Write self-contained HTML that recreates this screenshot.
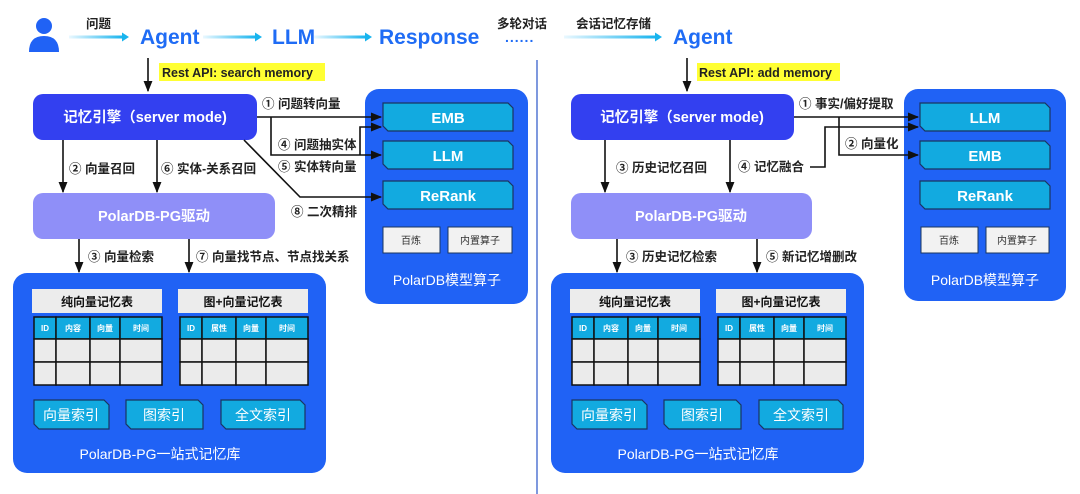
<!DOCTYPE html>
<html><head><meta charset="utf-8"><style>
html,body{margin:0;padding:0;background:#fff;}
svg{display:block;font-family:"Liberation Sans","Noto Sans CJK SC",sans-serif;}
.lb{font-size:12.5px;font-weight:bold;fill:#222;}
.wt{fill:#fff;font-weight:bold;}
.big{font-size:21px;font-weight:bold;fill:#1f6cf5;}
.ln{stroke:#111;stroke-width:1.6;fill:none;}
.cy{fill:#12aae0;stroke:#1a3560;stroke-width:1.2;}
.gh{fill:#ececec;}
.cell{fill:#ebebeb;stroke:#111;stroke-width:1.5;}
.th{fill:#12aae0;stroke:#111;stroke-width:1.5;}
.tht{font-size:8px;fill:#fff;font-weight:bold;}
</style></head><body>
<svg width="1080" height="494" viewBox="0 0 1080 494" xmlns="http://www.w3.org/2000/svg">
<defs>
<marker id="a" viewBox="0 0 10 10" refX="9" refY="5" markerWidth="7" markerHeight="7" orient="auto-start-reverse"><path d="M0,1 L10,5 L0,9 z" fill="#111"/></marker>
<linearGradient id="g" x1="0" y1="0" x2="1" y2="0"><stop offset="0" stop-color="#eaf8ff"/><stop offset="1" stop-color="#18b4ee"/></linearGradient>
<g id="db">
<rect x="13" y="273" width="313" height="200" rx="14" fill="#2062f5"/>
<rect x="32" y="289" width="130" height="24" class="gh"/>
<text x="97" y="306" text-anchor="middle" font-size="12" font-weight="bold" fill="#111">纯向量记忆表</text>
<rect x="178" y="289" width="130" height="24" class="gh"/>
<text x="243" y="306" text-anchor="middle" font-size="12" font-weight="bold" fill="#111">图+向量记忆表</text>
<rect x="34" y="317" width="22" height="22" class="th"/><rect x="56" y="317" width="34" height="22" class="th"/><rect x="90" y="317" width="30" height="22" class="th"/><rect x="120" y="317" width="42" height="22" class="th"/>
<text x="45" y="331" text-anchor="middle" class="tht">ID</text><text x="73" y="331" text-anchor="middle" class="tht">内容</text><text x="105" y="331" text-anchor="middle" class="tht">向量</text><text x="141" y="331" text-anchor="middle" class="tht">时间</text>
<rect x="34" y="339" width="22" height="23" class="cell"/><rect x="56" y="339" width="34" height="23" class="cell"/><rect x="90" y="339" width="30" height="23" class="cell"/><rect x="120" y="339" width="42" height="23" class="cell"/>
<rect x="34" y="362" width="22" height="23" class="cell"/><rect x="56" y="362" width="34" height="23" class="cell"/><rect x="90" y="362" width="30" height="23" class="cell"/><rect x="120" y="362" width="42" height="23" class="cell"/>
<rect x="180" y="317" width="22" height="22" class="th"/><rect x="202" y="317" width="34" height="22" class="th"/><rect x="236" y="317" width="30" height="22" class="th"/><rect x="266" y="317" width="42" height="22" class="th"/>
<text x="191" y="331" text-anchor="middle" class="tht">ID</text><text x="219" y="331" text-anchor="middle" class="tht">属性</text><text x="251" y="331" text-anchor="middle" class="tht">向量</text><text x="287" y="331" text-anchor="middle" class="tht">时间</text>
<rect x="180" y="339" width="22" height="23" class="cell"/><rect x="202" y="339" width="34" height="23" class="cell"/><rect x="236" y="339" width="30" height="23" class="cell"/><rect x="266" y="339" width="42" height="23" class="cell"/>
<rect x="180" y="362" width="22" height="23" class="cell"/><rect x="202" y="362" width="34" height="23" class="cell"/><rect x="236" y="362" width="30" height="23" class="cell"/><rect x="266" y="362" width="42" height="23" class="cell"/>
<polygon points="34,400 104,400 109,405 109,429 39,429 34,424" class="cy"/>
<text x="71" y="420" text-anchor="middle" font-size="14" fill="#fff">向量索引</text>
<polygon points="126,400 198,400 203,405 203,429 131,429 126,424" class="cy"/>
<text x="164" y="420" text-anchor="middle" font-size="14" fill="#fff">图索引</text>
<polygon points="221,400 300,400 305,405 305,429 226,429 221,424" class="cy"/>
<text x="263" y="420" text-anchor="middle" font-size="14" fill="#fff">全文索引</text>
<text x="160" y="459" text-anchor="middle" font-size="14" fill="#fff">PolarDB-PG一站式记忆库</text>
</g>
</defs>

<!-- top flow -->
<circle cx="44" cy="26" r="8" fill="#2062f5"/>
<path d="M29,52 Q29,36 44,36 Q59,36 59,52 z" fill="#2062f5"/>
<text x="86" y="28" class="lb">问题</text>
<rect x="69" y="35.5" width="54" height="3" fill="url(#g)"/><polygon points="122,32.5 129,37 122,41.5" fill="#18b4ee"/>
<text x="140" y="44" class="big">Agent</text>
<rect x="203" y="35.5" width="53" height="3" fill="url(#g)"/><polygon points="255,32.5 262,37 255,41.5" fill="#18b4ee"/>
<text x="272" y="44" class="big">LLM</text>
<rect x="314" y="35.5" width="52" height="3" fill="url(#g)"/><polygon points="365,32.5 372,37 365,41.5" fill="#18b4ee"/>
<text x="379" y="44" class="big">Response</text>
<text x="497" y="28" class="lb">多轮对话</text>
<text x="505" y="42" font-size="14" font-weight="bold" fill="#1f6cf5" letter-spacing="1">......</text>
<text x="576" y="28" class="lb">会话记忆存储</text>
<rect x="564" y="35.5" width="92" height="3" fill="url(#g)"/><polygon points="655,32.5 662,37 655,41.5" fill="#18b4ee"/>
<text x="673" y="44" class="big">Agent</text>
<line x1="537" y1="60" x2="537" y2="494" stroke="#2a55c8" stroke-width="1.2"/>

<!-- LEFT -->
<line x1="148" y1="58" x2="148" y2="91" class="ln" marker-end="url(#a)"/>
<rect x="159" y="63" width="166" height="18" fill="#ffff33"/>
<text x="162" y="77" class="lb" font-size="13">Rest API:  search memory</text>
<rect x="33" y="94" width="224" height="46" rx="10" fill="#3340f0"/>
<text x="145" y="122" text-anchor="middle" class="wt" font-size="14.5">记忆引擎（server mode)</text>

<rect x="365" y="89" width="163" height="215" rx="14" fill="#2062f5"/>
<polygon points="383,103 508,103 513,108 513,131 388,131 383,126" class="cy"/>
<text x="448" y="123" text-anchor="middle" class="wt" font-size="15">EMB</text>
<polygon points="383,141 508,141 513,146 513,169 388,169 383,164" class="cy"/>
<text x="448" y="161" text-anchor="middle" class="wt" font-size="15">LLM</text>
<polygon points="383,181 508,181 513,186 513,209 388,209 383,204" class="cy"/>
<text x="448" y="201" text-anchor="middle" class="wt" font-size="15">ReRank</text>
<rect x="383" y="227" width="57" height="26" fill="#f2f2f2" stroke="#1a3560"/>
<text x="411" y="244" text-anchor="middle" font-size="10" fill="#333">百炼</text>
<rect x="448" y="227" width="64" height="26" fill="#f2f2f2" stroke="#1a3560"/>
<text x="480" y="244" text-anchor="middle" font-size="10" fill="#333">内置算子</text>
<text x="447" y="285" text-anchor="middle" font-size="14" fill="#fff">PolarDB模型算子</text>

<polyline points="257,117 381,117" class="ln" marker-end="url(#a)"/>
<polyline points="271,117 271,155 381,155" class="ln" marker-end="url(#a)"/>
<polyline points="360,155 360,127 381,127" class="ln" marker-end="url(#a)"/>
<polyline points="244,140 300,197 381,197" class="ln" marker-end="url(#a)"/>
<text x="262" y="108" class="lb">① 问题转向量</text>
<text x="278" y="149" class="lb">④ 问题抽实体</text>
<text x="278" y="171" class="lb">⑤ 实体转向量</text>
<text x="291" y="216" class="lb">⑧ 二次精排</text>

<line x1="63" y1="140" x2="63" y2="192" class="ln" marker-end="url(#a)"/>
<line x1="157" y1="140" x2="157" y2="192" class="ln" marker-end="url(#a)"/>
<text x="69" y="173" class="lb">② 向量召回</text>
<text x="161" y="173" class="lb">⑥ 实体-关系召回</text>
<rect x="33" y="193" width="242" height="46" rx="10" fill="#8f8ff8"/>
<text x="154" y="221" text-anchor="middle" class="wt" font-size="14.5">PolarDB-PG驱动</text>
<line x1="79" y1="239" x2="79" y2="272" class="ln" marker-end="url(#a)"/>
<line x1="189" y1="239" x2="189" y2="272" class="ln" marker-end="url(#a)"/>
<text x="88" y="261" class="lb">③ 向量检索</text>
<text x="196" y="261" class="lb">⑦ 向量找节点、节点找关系</text>
<use href="#db"/>

<!-- RIGHT -->
<line x1="687" y1="58" x2="687" y2="91" class="ln" marker-end="url(#a)"/>
<rect x="697" y="63" width="143" height="18" fill="#ffff33"/>
<text x="699" y="77" class="lb" font-size="13">Rest API: add memory</text>
<rect x="571" y="94" width="223" height="46" rx="10" fill="#3340f0"/>
<text x="682" y="122" text-anchor="middle" class="wt" font-size="14.5">记忆引擎（server mode)</text>

<rect x="904" y="89" width="162" height="212" rx="14" fill="#2062f5"/>
<polygon points="920,103 1045,103 1050,108 1050,131 925,131 920,126" class="cy"/>
<text x="985" y="123" text-anchor="middle" class="wt" font-size="15">LLM</text>
<polygon points="920,141 1045,141 1050,146 1050,169 925,169 920,164" class="cy"/>
<text x="985" y="161" text-anchor="middle" class="wt" font-size="15">EMB</text>
<polygon points="920,181 1045,181 1050,186 1050,209 925,209 920,204" class="cy"/>
<text x="985" y="201" text-anchor="middle" class="wt" font-size="15">ReRank</text>
<rect x="921" y="227" width="57" height="26" fill="#f2f2f2" stroke="#1a3560"/>
<text x="949" y="244" text-anchor="middle" font-size="10" fill="#333">百炼</text>
<rect x="986" y="227" width="63" height="26" fill="#f2f2f2" stroke="#1a3560"/>
<text x="1017" y="244" text-anchor="middle" font-size="10" fill="#333">内置算子</text>
<text x="985" y="285" text-anchor="middle" font-size="14" fill="#fff">PolarDB模型算子</text>

<polyline points="794,117 918,117" class="ln" marker-end="url(#a)"/>
<polyline points="839,117 839,155 918,155" class="ln" marker-end="url(#a)"/>
<polyline points="810,167 825,167 825,127 918,127" class="ln" marker-end="url(#a)"/>
<text x="799" y="108" class="lb">① 事实/偏好提取</text>
<text x="845" y="148" class="lb">② 向量化</text>

<line x1="605" y1="140" x2="605" y2="192" class="ln" marker-end="url(#a)"/>
<line x1="730" y1="140" x2="730" y2="192" class="ln" marker-end="url(#a)"/>
<text x="616" y="172" class="lb">③ 历史记忆召回</text>
<text x="738" y="171" class="lb">④ 记忆融合</text>
<rect x="571" y="193" width="241" height="46" rx="10" fill="#8f8ff8"/>
<text x="691" y="221" text-anchor="middle" class="wt" font-size="14.5">PolarDB-PG驱动</text>
<line x1="617" y1="239" x2="617" y2="272" class="ln" marker-end="url(#a)"/>
<line x1="757" y1="239" x2="757" y2="272" class="ln" marker-end="url(#a)"/>
<text x="626" y="261" class="lb">③ 历史记忆检索</text>
<text x="766" y="261" class="lb">⑤ 新记忆增删改</text>
<use href="#db" transform="translate(538,0)"/>
</svg>
</body></html>
